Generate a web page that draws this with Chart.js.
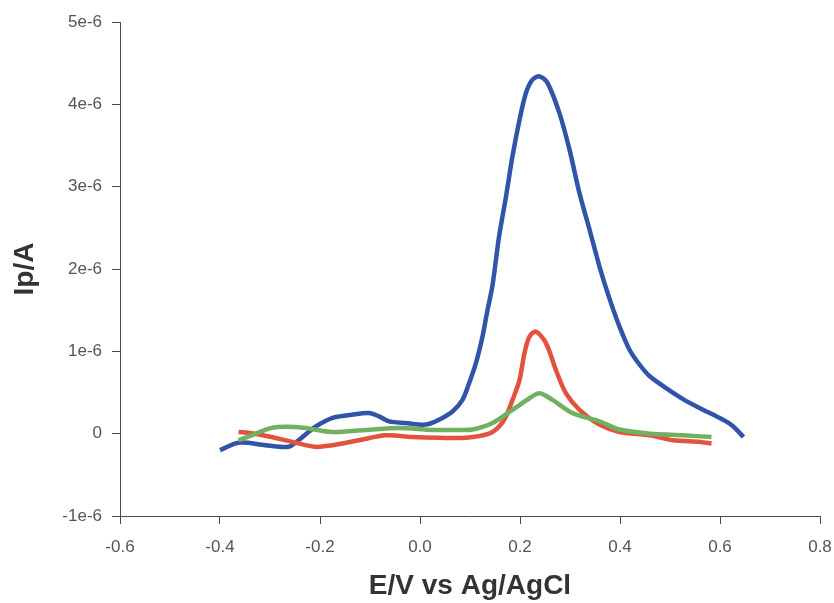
<!DOCTYPE html>
<html>
<head>
<meta charset="utf-8">
<script src="https://cdn.jsdelivr.net/npm/chart.js@4.4.1/dist/chart.umd.min.js"></script>
<style>
  html, body { margin: 0; padding: 0; background: #ffffff; }
  #wrap { width: 834px; height: 603px; position: relative; }
</style>
</head>
<body>
<div id="wrap"><canvas id="cv" width="834" height="603"></canvas></div>
<script>
// Potential (V vs Ag/AgCl) and peak current (in units of 1e-6 A) for each scan
const potentialBlue = [-0.400, -0.363, -0.309, -0.263, -0.243, -0.209, -0.176, -0.136, -0.102, -0.082, -0.062, -0.029, 0.011, 0.038, 0.065, 0.085, 0.098, 0.112, 0.125, 0.135, 0.145, 0.158, 0.172, 0.185, 0.199, 0.212, 0.225, 0.239, 0.255, 0.279, 0.299, 0.319, 0.339, 0.359, 0.379, 0.399, 0.419, 0.439, 0.459, 0.493, 0.526, 0.560, 0.593, 0.620, 0.633, 0.647];
const currentBlue   = [-0.20, -0.11, -0.14, -0.16, -0.08, 0.085, 0.19, 0.23, 0.25, 0.21, 0.15, 0.13, 0.11, 0.17, 0.27, 0.41, 0.61, 0.86, 1.18, 1.50, 1.80, 2.39, 2.88, 3.37, 3.81, 4.14, 4.30, 4.34, 4.26, 3.89, 3.45, 2.92, 2.48, 2.03, 1.64, 1.30, 1.02, 0.84, 0.70, 0.55, 0.42, 0.31, 0.21, 0.12, 0.05, -0.04];

const potentialRed = [-0.363, -0.343, -0.297, -0.249, -0.209, -0.176, -0.122, -0.069, -0.016, 0.038, 0.092, 0.138, 0.158, 0.172, 0.185, 0.199, 0.209, 0.219, 0.232, 0.252, 0.272, 0.292, 0.319, 0.359, 0.399, 0.459, 0.506, 0.560, 0.583];
const currentRed   = [0.02, 0.01, -0.04, -0.11, -0.16, -0.14, -0.08, -0.02, -0.04, -0.05, -0.05, 0.00, 0.085, 0.21, 0.41, 0.65, 0.98, 1.18, 1.24, 1.10, 0.77, 0.49, 0.29, 0.11, 0.02, -0.02, -0.08, -0.10, -0.12];

const potentialGreen = [-0.363, -0.337, -0.297, -0.269, -0.229, -0.176, -0.109, -0.042, 0.024, 0.078, 0.105, 0.145, 0.185, 0.219, 0.239, 0.265, 0.305, 0.359, 0.399, 0.459, 0.526, 0.583];
const currentGreen   = [-0.08, -0.02, 0.07, 0.085, 0.07, 0.02, 0.045, 0.07, 0.045, 0.045, 0.05, 0.13, 0.29, 0.43, 0.49, 0.41, 0.25, 0.15, 0.05, 0.00, -0.02, -0.04];

const xTicks = [-0.6, -0.4, -0.2, 0.0, 0.2, 0.4, 0.6, 0.8];
const yTicks = [-1, 0, 1, 2, 3, 4, 5];

function pairs(xs, ys) { return xs.map((x, i) => ({ x: x, y: ys[i] })); }

function series(xs, ys, color) {
  return {
    data: pairs(xs, ys),
    showLine: true,
    borderColor: color,
    backgroundColor: color,
    borderWidth: 4.5,
    pointRadius: 0,
    tension: 0.3,
    fill: false
  };
}

const axisColor = '#4a4a4a';
const tickFont = { family: 'Liberation Sans, Arial, sans-serif', size: 17 };
const titleFont = { family: 'Liberation Sans, Arial, sans-serif', size: 28, weight: 'bold' };

new Chart(document.getElementById('cv'), {
  type: 'scatter',
  data: {
    datasets: [
      series(potentialGreen, currentGreen, 'rgb(112,176,96)'),
      series(potentialRed, currentRed, 'rgb(226,82,60)'),
      series(potentialBlue, currentBlue, 'rgb(48,84,168)')
    ]
  },
  options: {
    responsive: false,
    animation: false,
    layout: { padding: { top: 22, right: 14, left: 0, bottom: 0 } },
    plugins: { legend: { display: false }, tooltip: { enabled: false } },
    scales: {
      x: {
        type: 'linear',
        min: -0.6, max: 0.8,
        afterBuildTicks: (s) => { s.ticks = xTicks.map(v => ({ value: v })); },
        afterFit: (s) => { s.height = 87; s.paddingRight = 0; s.paddingLeft = 0; },
        border: { display: true, color: axisColor, width: 1 },
        grid: { drawOnChartArea: false, drawTicks: true, tickLength: 8, color: axisColor },
        ticks: {
          color: '#555555', font: tickFont, padding: 13,
          callback: (v) => Number(v).toFixed(1)
        },
        title: { display: true, text: 'E/V vs Ag/AgCl', color: '#333333', font: titleFont, padding: { top: 0, bottom: 0 } }
      },
      y: {
        type: 'linear',
        min: -1, max: 5,
        afterBuildTicks: (s) => { s.ticks = yTicks.map(v => ({ value: v })); },
        afterFit: (s) => { s.width = 120; s.paddingTop = 0; s.paddingBottom = 0; },
        border: { display: true, color: axisColor, width: 1 },
        grid: { drawOnChartArea: false, drawTicks: true, tickLength: 8, color: axisColor },
        ticks: {
          color: '#555555', font: tickFont, padding: 10,
          callback: (v) => (v === 0 ? '0' : v + 'e-6')
        },
        title: { display: true, text: 'Ip/A', color: '#333333', font: titleFont, padding: { top: 8, bottom: 8 } }
      }
    }
  }
});
</script>
</body>
</html>
